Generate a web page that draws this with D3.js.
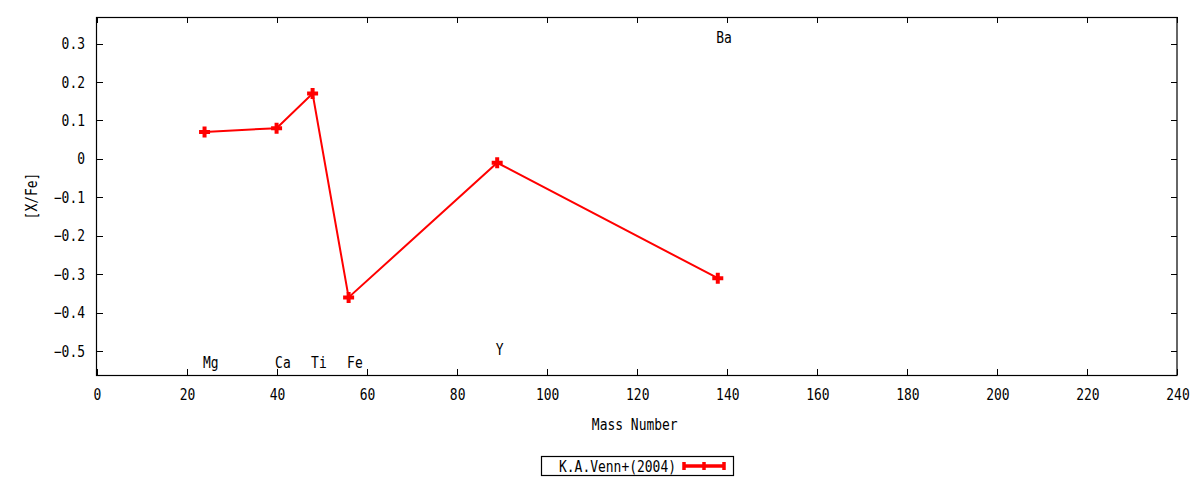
<!DOCTYPE html>
<html>
<head>
<meta charset="utf-8">
<script src="https://cdn.jsdelivr.net/npm/d3@7"></script>
<style>
  body { margin: 0; background: #fff; }
  text { font-family: "DejaVu Sans Mono", monospace; font-size: 15px; fill: #000; }
</style>
</head>
<body>
<svg id="chart" width="1200" height="480"></svg>
<script>
// data
var elements = ["Mg", "Ca", "Ti", "Fe", "Y", "Ba"];
var massNumber = [24, 40, 48, 56, 89, 138];
var xfe = [0.07, 0.08, 0.17, -0.36, -0.01, -0.31];
// where the element names sit (value on the y axis)
var labelY = [-0.53, -0.53, -0.53, -0.53, -0.495, 0.315];
var xTicks = [0, 20, 40, 60, 80, 100, 120, 140, 160, 180, 200, 220, 240];
var yTicks = [0.3, 0.2, 0.1, 0, -0.1, -0.2, -0.3, -0.4, -0.5];
var seriesName = "K.A.Venn+(2004)";

var svg = d3.select("#chart");
var pl = 96.5, pr = 1177, pt = 17, pb = 375;
var charW = 7.8;
var red = "#ff0000";

var x = d3.scaleLinear().domain([0, 240]).range([pl, pr]);
var y = d3.scaleLinear().domain([-0.5617, 0.369]).range([pb, pt]);

// squeeze text to the narrow mono look
function txt(g, s) {
  return g.append("text").text(s)
    .attr("textLength", s.length * charW)
    .attr("lengthAdjust", "spacingAndGlyphs");
}

var fmt = function(d) { return d === 0 ? "0" : d3.format(".1f")(d); };

// axes (inner ticks, mirrored)
var tk = 6;
function noDomain(g) { g.select(".domain").remove(); }
svg.append("g").attr("transform", "translate(0," + pb + ")")
  .call(d3.axisBottom(x).tickValues(xTicks).tickSize(-tk).tickFormat(""))
  .call(noDomain);
svg.append("g").attr("transform", "translate(0," + pt + ")")
  .call(d3.axisTop(x).tickValues(xTicks).tickSize(-tk).tickFormat(""))
  .call(noDomain);
svg.append("g").attr("transform", "translate(" + pl + ",0)")
  .call(d3.axisLeft(y).tickValues(yTicks).tickSize(-tk).tickFormat(""))
  .call(noDomain);
svg.append("g").attr("transform", "translate(" + pr + ",0)")
  .call(d3.axisRight(y).tickValues(yTicks).tickSize(-tk).tickFormat(""))
  .call(noDomain);
svg.selectAll(".tick line").attr("stroke", "#000").attr("shape-rendering", "crispEdges");

svg.append("rect")
  .attr("x", pl).attr("y", pt + 0.5)
  .attr("width", pr - pl).attr("height", pb - pt)
  .attr("fill", "none").attr("stroke", "#000").attr("stroke-width", 1.2);

// tick labels
var tl = svg.append("g");
xTicks.forEach(function(d) {
  txt(tl, String(d)).attr("x", x(d) + 1).attr("y", 400).attr("text-anchor", "middle");
});
yTicks.forEach(function(d) {
  txt(tl, fmt(d)).attr("x", 85).attr("y", y(d) + 5.5).attr("text-anchor", "end");
});

// axis titles
txt(svg, "Mass Number").attr("x", (pl + pr) / 2 - 2).attr("y", 430).attr("text-anchor", "middle");
txt(svg, "[X/Fe]").attr("text-anchor", "middle")
  .attr("transform", "translate(37," + ((pt + pb) / 2) + ")rotate(-90)");

// series
var pts = massNumber.map(function(m, i) { return [m, xfe[i]]; });
svg.append("path")
  .datum(pts)
  .attr("d", d3.line().x(function(d) { return x(d[0]); }).y(function(d) { return y(d[1]); }))
  .attr("fill", "none").attr("stroke", red).attr("stroke-width", 2);

var mk = svg.append("g");
pts.forEach(function(d) {
  var cx = x(d[0]), cy = y(d[1]);
  mk.append("path")
    .attr("d", "M" + (cx - 5.5) + "," + cy + "H" + (cx + 5.5) + "M" + cx + "," + (cy - 5.5) + "V" + (cy + 5.5))
    .attr("stroke", red).attr("stroke-width", 4).attr("fill", "none");
});

// element names
var lab = svg.append("g");
elements.forEach(function(e, i) {
  txt(lab, e).attr("x", x(massNumber[i]) - 1.5).attr("y", y(labelY[i]) + 5.5);
});

// legend
var lg = svg.append("g");
lg.append("rect").attr("x", 541.5).attr("y", 456.5).attr("width", 192).attr("height", 19)
  .attr("fill", "none").attr("stroke", "#000").attr("stroke-width", 1.2);
txt(lg, seriesName).attr("x", 676).attr("y", 471.5).attr("text-anchor", "end");
lg.append("path")
  .attr("d", "M683,466H725M684,462V470M724,462V470M704,462V470")
  .attr("stroke", red).attr("stroke-width", 3.5).attr("fill", "none");
</script>
</body>
</html>
